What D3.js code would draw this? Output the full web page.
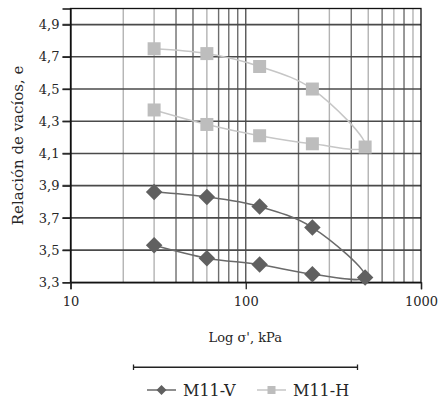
<!DOCTYPE html>
<html>
<head>
<meta charset="utf-8">
<script src="https://cdn.jsdelivr.net/npm/d3@7"></script>
<style>
  html, body { margin: 0; padding: 0; background: #fff; }
  svg { display: block; }
  text { font-family: "DejaVu Serif", "Liberation Serif", serif; fill: #262626; }
</style>
</head>
<body>
<svg id="chart" width="438" height="403"></svg>
<script>
// ---- data ----
const pressures = [30, 60, 120, 240, 480, 240, 120, 60, 30];           // kPa, loading then unloading
const seriesNames = ["M11-V", "M11-H"];
const voidsV = [3.86, 3.83, 3.77, 3.64, 3.33, 3.35, 3.41, 3.45, 3.53]; // M11-V
const voidsH = [4.75, 4.72, 4.64, 4.50, 4.14, 4.16, 4.21, 4.28, 4.37]; // M11-H
const yTicks = [3.3, 3.5, 3.7, 3.9, 4.1, 4.3, 4.5, 4.7, 4.9];
const xTicks = [10, 100, 1000];
const xTitle = "Log σ', kPa";
const yTitle = "Relación de vacíos, e";

// ---- layout / style ----
const pL = 70.5, pR = 421, pT = 8.5, pB = 282.3;
const svg = d3.select("#chart");
const x = d3.scaleLog().domain([10, 1000]).range([pL, pR]);
const y = d3.scaleLinear().domain([3.3, 5.0]).range([pB, pT]);
const lightMinor = new Set([20, 30, 60, 300, 500, 700, 900]);

// minor vertical gridlines
const minor = [];
for (const dec of [10, 100]) for (let k = 2; k <= 9; k++) minor.push(dec * k);
svg.append("g").selectAll("line").data(minor).join("line")
  .attr("x1", d => x(d)).attr("x2", d => x(d))
  .attr("y1", pT).attr("y2", pB)
  .attr("stroke", d => lightMinor.has(d) ? "#b3b3b3" : "#6e6e6e")
  .attr("stroke-width", 1.4);
// major vertical at 100
svg.append("line").attr("x1", x(100)).attr("x2", x(100)).attr("y1", pT).attr("y2", pB)
  .attr("stroke", "#555").attr("stroke-width", 1.4);

// horizontal gridlines + left ticks
svg.append("g").selectAll("line").data(yTicks.slice(1)).join("line")
  .attr("x1", pL - 8).attr("x2", pR)
  .attr("y1", d => y(d)).attr("y2", d => y(d))
  .attr("stroke", "#4a4a4a").attr("stroke-width", 1.6);

// frame
svg.append("rect").attr("x", pL).attr("y", pT)
  .attr("width", pR - pL).attr("height", pB - pT)
  .attr("fill", "none").attr("stroke", "#111").attr("stroke-width", 1.3);

// y axis via d3 axis
const yAxis = svg.append("g").attr("transform", `translate(${pL},0)`)
  .call(d3.axisLeft(y).tickValues(yTicks).tickSize(8).tickPadding(3)
    .tickFormat(d => d3.format(".1f")(d).replace(".", ",")));
yAxis.select(".domain").attr("stroke", "#111").attr("stroke-width", 1.3);
yAxis.selectAll(".tick line").attr("stroke", "#222").attr("stroke-width", 1.3);
yAxis.selectAll(".tick text").attr("font-size", 13).attr("font-family", "DejaVu Serif").attr("fill", "#262626");

// x axis
const xAxis = svg.append("g").attr("transform", `translate(0,${pB})`)
  .call(d3.axisBottom(x).tickValues(xTicks).tickSize(7).tickPadding(7).tickFormat(d3.format("d")));
xAxis.select(".domain").attr("stroke", "#111").attr("stroke-width", 1.3);
xAxis.selectAll(".tick line").attr("stroke", "#222").attr("stroke-width", 1.3);
xAxis.selectAll(".tick text").attr("font-size", 13).attr("font-family", "DejaVu Serif").attr("fill", "#262626");

// series
const series = [
  { name: seriesNames[0], vals: voidsV, line: "#6a6a6a", fill: "#606060", shape: "diamond" },
  { name: seriesNames[1], vals: voidsH, line: "#c6c6c6", fill: "#bdbdbd", shape: "square" }
];
const lineGen = d3.line().x(d => x(d[0])).y(d => y(d[1])).curve(d3.curveCatmullRom.alpha(0.5));
function markerPath(shape, s) {
  if (shape === "square") return `M${-s/2},${-s/2}h${s}v${s}h${-s}Z`;
  const r = s / 2;
  return `M0,${-r}L${r},0L0,${r}L${-r},0Z`;
}
series.forEach(sr => {
  const pts = pressures.map((p, i) => [p, sr.vals[i]]);
  svg.append("path").datum(pts).attr("d", lineGen)
    .attr("fill", "none").attr("stroke", sr.line).attr("stroke-width", 1.5);
  svg.append("g").selectAll("path").data(pts).join("path")
    .attr("transform", d => `translate(${x(d[0])},${y(d[1])})`)
    .attr("d", markerPath(sr.shape, sr.shape === "square" ? 13 : 16.5))
    .attr("fill", sr.fill);
});

// axis titles
svg.append("text").attr("x", (pL + pR) / 2 - 0.5).attr("y", 342)
  .attr("text-anchor", "middle").attr("font-size", 13).text(xTitle);
svg.append("text").attr("transform", `translate(23,${(pT + pB) / 2}) rotate(-90)`)
  .attr("text-anchor", "middle").attr("font-size", 15).text(yTitle);

// legend
const lg = svg.append("g");
lg.append("line").attr("x1", 133.5).attr("x2", 357.5).attr("y1", 367.3).attr("y2", 367.3)
  .attr("stroke", "#222").attr("stroke-width", 1.5);
[133.5, 357.5].forEach(xx => lg.append("line").attr("x1", xx).attr("x2", xx)
  .attr("y1", 364.5).attr("y2", 370).attr("stroke", "#222").attr("stroke-width", 1.3));
const legendX = [147, 257];
series.forEach((sr, i) => {
  const x0 = legendX[i], ly = 390;
  lg.append("line").attr("x1", x0).attr("x2", x0 + 29).attr("y1", ly).attr("y2", ly)
    .attr("stroke", sr.line).attr("stroke-width", 1.5);
  lg.append("path").attr("transform", `translate(${x0 + 14.5},${ly})`)
    .attr("d", markerPath(sr.shape, sr.shape === "square" ? 8 : 10)).attr("fill", sr.fill);
  lg.append("text").attr("x", x0 + 36).attr("y", ly + 6).attr("font-size", 16).text(sr.name);
});
</script>
</body>
</html>
